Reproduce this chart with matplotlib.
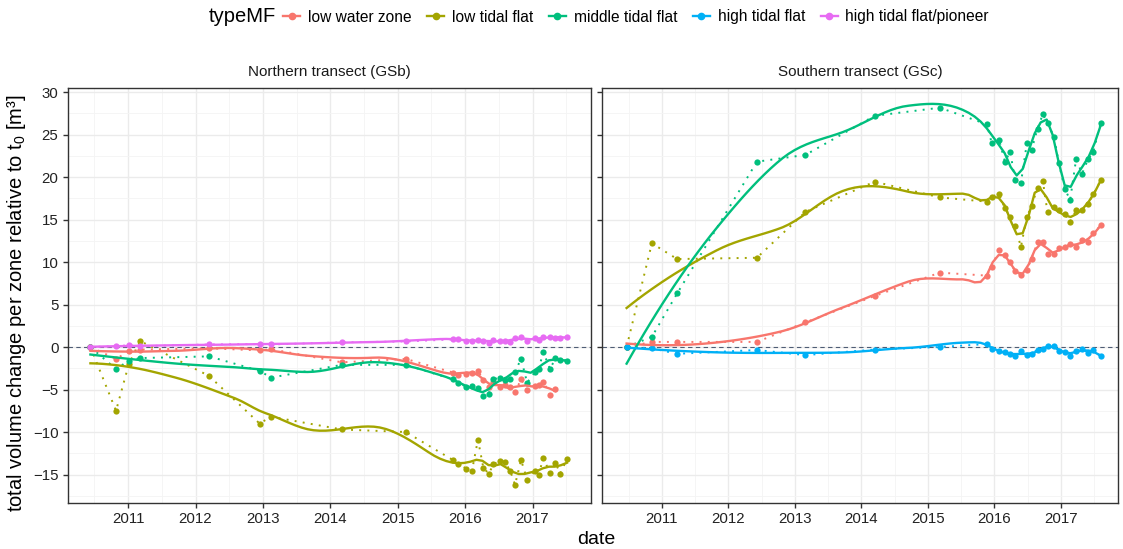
import numpy as np
import matplotlib.pyplot as plt
from matplotlib.lines import Line2D
from matplotlib.ticker import MultipleLocator

plt.rcParams['font.family'] = ['Liberation Sans', 'DejaVu Sans']

# zone names and ggplot hue colours
zones = ['low water zone', 'low tidal flat', 'middle tidal flat',
         'high tidal flat', 'high tidal flat/pioneer']
colors = ['#F8766D', '#A3A500', '#00BF7D', '#00B0F6', '#E76BF3']

# Northern transect (GSb) survey dates as decimal years
north_dates = [2010.44, 2010.82, 2011.01, 2011.18, 2012.20, 2012.95, 2013.12,
               2014.17, 2015.12,
               2015.82, 2015.90, 2016.02, 2016.10, 2016.19, 2016.27, 2016.35,
               2016.42, 2016.51, 2016.59, 2016.67, 2016.74, 2016.83, 2016.92,
               2017.04, 2017.09, 2017.16, 2017.26, 2017.34, 2017.41, 2017.51]

north_low_water = [0.0, -1.4, -0.5, -0.3, -0.15, -0.4, -0.25, -1.8, -1.4,
                   -3.0, -3.3, -3.2, -3.1, -2.8, -3.9, -4.7, -4.1, -4.7, -4.5,
                   -4.7, -5.3, -3.8, -5.0, -4.6, -4.5, -4.1, -5.6, -4.9]
north_low_tidal = [0.0, -7.5, -2.0, 0.7, -3.4, -9.0, -8.2, -9.7, -10.0,
                   -13.3, -13.8, -14.3, -14.6, -10.9, -14.2, -14.9, -13.8,
                   -13.4, -13.5, -14.6, -16.2, -13.3, -15.6, -14.6, -15.0,
                   -13.1, -14.8, -13.6, -14.9, -13.2]
north_middle_tidal = [0.0, -2.6, -1.6, -1.3, -1.1, -2.8, -3.6, -2.1, -2.1,
                      -3.8, -4.2, -4.7, -4.6, -4.8, -5.8, -5.5, -3.8, -3.6,
                      -3.9, -3.8, -2.9, -1.4, -4.2, -2.9, -2.6, -0.6, -2.6,
                      -1.3, -1.5, -1.6]
north_pioneer = [0.0, 0.1, 0.2, 0.1, 0.3, 0.35, 0.3, 0.55, 0.65,
                 0.9, 0.95, 0.7, 0.7, 0.85, 0.75, 0.5, 0.85, 0.65, 0.75,
                 0.55, 1.1, 1.15, 0.7, 1.1, 0.85, 1.15, 1.15, 1.1, 1.1, 1.15]

# Southern transect (GSc)
south_dates = [2010.47, 2010.85, 2011.23, 2012.43, 2013.16, 2014.20, 2015.18,
               2015.89, 2015.96, 2016.07, 2016.16, 2016.24, 2016.31, 2016.40,
               2016.49, 2016.56, 2016.65, 2016.73, 2016.80, 2016.90, 2016.97,
               2017.06, 2017.14, 2017.23, 2017.32, 2017.41, 2017.49, 2017.60]

south_low_water = [0.0, 0.6, 0.6, 0.6, 2.9, 6.0, 8.75,
                   8.4, 9.45, 11.4, 10.8, 10.0, 8.9, 8.5, 9.1, 10.4, 12.3,
                   12.4, 10.9, 11.0, 11.6, 11.8, 12.1, 11.8, 12.6, 12.4,
                   13.4, 14.3]
south_low_tidal = [0.0, 12.2, 10.35, 10.5, 15.9, 19.45, 17.6,
                   17.1, 17.7, 18.0, 16.3, 15.3, 14.2, 11.8, 15.3, 16.6,
                   18.7, 19.5, 15.85, 16.5, 16.1, 15.6, 14.7, 16.1, 16.1,
                   16.8, 18.0, 19.6]
south_middle_tidal = [0.0, 1.2, 6.3, 21.8, 22.6, 27.2, 28.15,
                      26.2, 24.0, 24.4, 21.8, 23.0, 19.6, 19.3, 24.0, 23.2,
                      25.7, 27.4, 26.3, 24.7, 21.6, 18.6, 17.3, 22.1, 20.4,
                      22.1, 23.0, 26.4]
south_high_tidal = [0.0, -0.15, -0.8, -0.35, -0.95, -0.3, 0.0,
                    0.35, -0.2, -0.45, -0.6, -0.8, -1.1, -0.5, -0.9, -0.85,
                    -0.3, -0.25, 0.1, 0.1, -0.45, -0.55, -1.0, -0.45, -0.25,
                    -0.65, -0.3, -1.1]

panels = [
    ('Northern transect (GSb)', north_dates,
     {0: north_low_water, 1: north_low_tidal, 2: north_middle_tidal,
      4: north_pioneer}),
    ('Southern transect (GSc)', south_dates,
     {0: south_low_water, 1: south_low_tidal, 2: south_middle_tidal,
      3: south_high_tidal}),
]


def local_fit(x, y, x0, q):
    # quadratic fit with tricube weights around x0 -> value and slope
    d = np.abs(x - x0)
    h = np.sort(d)[q - 1] * 1.0001
    w = np.clip(1 - (d / h) ** 3, 0, 1) ** 3
    dx = x - x0
    A = np.vstack([np.ones_like(dx), dx, dx ** 2]).T
    sw = np.sqrt(w)
    coef = np.linalg.lstsq(A * sw[:, None], y * sw, rcond=None)[0]
    return coef[0], coef[1]


def loess(x, y, span=0.3, n=80):
    # rough copy of R loess: fit at kd-tree vertices, cubic Hermite in between
    x = np.asarray(x, float)
    y = np.asarray(y, float)
    q = max(int(np.floor(span * len(x))), 4)
    fc = max(int(np.floor(len(x) * span * 0.2)), 1)
    xs_sorted = np.sort(x)
    mu = 0.005 * (x.max() - x.min())
    verts = [x.min() - mu, x.max() + mu]

    def split(l, u):
        if u - l + 1 <= fc:
            return
        m = (l + u) // 2
        verts.append((xs_sorted[m] + xs_sorted[m + 1]) / 2)
        split(l, m)
        split(m + 1, u)

    split(0, len(x) - 1)
    verts = np.unique(verts)
    vals = np.array([local_fit(x, y, v, q) for v in verts])
    grid = np.linspace(x.min(), x.max(), n)
    out = []
    for g in grid:
        i = min(np.searchsorted(verts, g) - 1, len(verts) - 2)
        i = max(i, 0)
        x0, x1 = verts[i], verts[i + 1]
        hh = x1 - x0
        t = (g - x0) / hh
        f0, d0 = vals[i]
        f1, d1 = vals[i + 1]
        out.append((2 * t**3 - 3 * t**2 + 1) * f0 + (t**3 - 2 * t**2 + t) * hh * d0
                   + (-2 * t**3 + 3 * t**2) * f1 + (t**3 - t**2) * hh * d1)
    return grid, np.array(out)


fig = plt.figure(figsize=(11.23, 5.49), dpi=100)
axes = [fig.add_axes([67.5 / 1123, 1 - 503 / 549, 523 / 1123, 415.5 / 549]),
        fig.add_axes([602 / 1123, 1 - 503 / 549, 516 / 1123, 415.5 / 549])]

for ax, (title, dates, series) in zip(axes, panels):
    ax.axhline(0, color='#4F5D75', lw=0.8, ls=(0, (4, 3)), zorder=1)
    for idx, vals in series.items():
        xd = dates[:len(vals)]
        c = colors[idx]
        ax.plot(xd, vals, color=c, lw=1.4, ls=(0, (1, 3.2)), zorder=2)
        ax.plot(xd, vals, 'o', color=c, ms=4.5, mec='none', zorder=3)
        xs, ys = loess(xd, vals)
        ax.plot(xs, ys, color=c, lw=1.7, zorder=4)

    ax.set_xlim(2010.1, 2017.86)
    ax.set_ylim(-18.35, 30.53)
    ax.xaxis.set_major_locator(MultipleLocator(1))
    ax.xaxis.set_minor_locator(MultipleLocator(0.5, offset=0.5))
    ax.yaxis.set_major_locator(MultipleLocator(5))
    ax.yaxis.set_minor_locator(MultipleLocator(2.5))
    ax.xaxis.set_major_formatter(plt.FuncFormatter(lambda v, p: '%d' % round(v)))
    ax.grid(which='major', color='#EBEBEB', lw=1.0)
    ax.grid(which='minor', color='#F4F4F4', lw=0.6)
    ax.set_axisbelow(True)
    for s in ax.spines.values():
        s.set_color('#333333')
        s.set_linewidth(1.0)
    ax.tick_params(which='major', length=3.5, width=1.0, color='#333333',
                   labelsize=10.8, labelcolor='#222222', pad=3)
    ax.tick_params(which='minor', length=0)
    ax.text(0.5, 1 + 15 / 415.5, title, transform=ax.transAxes,
            ha='center', va='center', fontsize=11, color='#1A1A1A')

axes[1].tick_params(labelleft=False)

fig.text(596 / 1123, 1 - 540 / 549, 'date', ha='center', va='center',
         fontsize=14)
fig.text(17 / 1123, 1 - 303 / 549,
         'total volume change per zone relative to $\\mathregular{t_0}$ [m³]',
         rotation=90, ha='center', va='center', fontsize=14.5)

handles = [Line2D([], [], color=c, marker='o', ms=4.5, lw=1.7) for c in colors]
fig.legend(handles, zones, loc='center', bbox_to_anchor=(636 / 1123, 1 - 17 / 549),
           ncol=5, frameon=False, fontsize=11.2, handlelength=1.1,
           handletextpad=0.5, columnspacing=1.0)
fig.text(276 / 1123, 1 - 17 / 549, 'typeMF', ha='right', va='center',
         fontsize=14.5)

fig.savefig('out.png', dpi=100)
